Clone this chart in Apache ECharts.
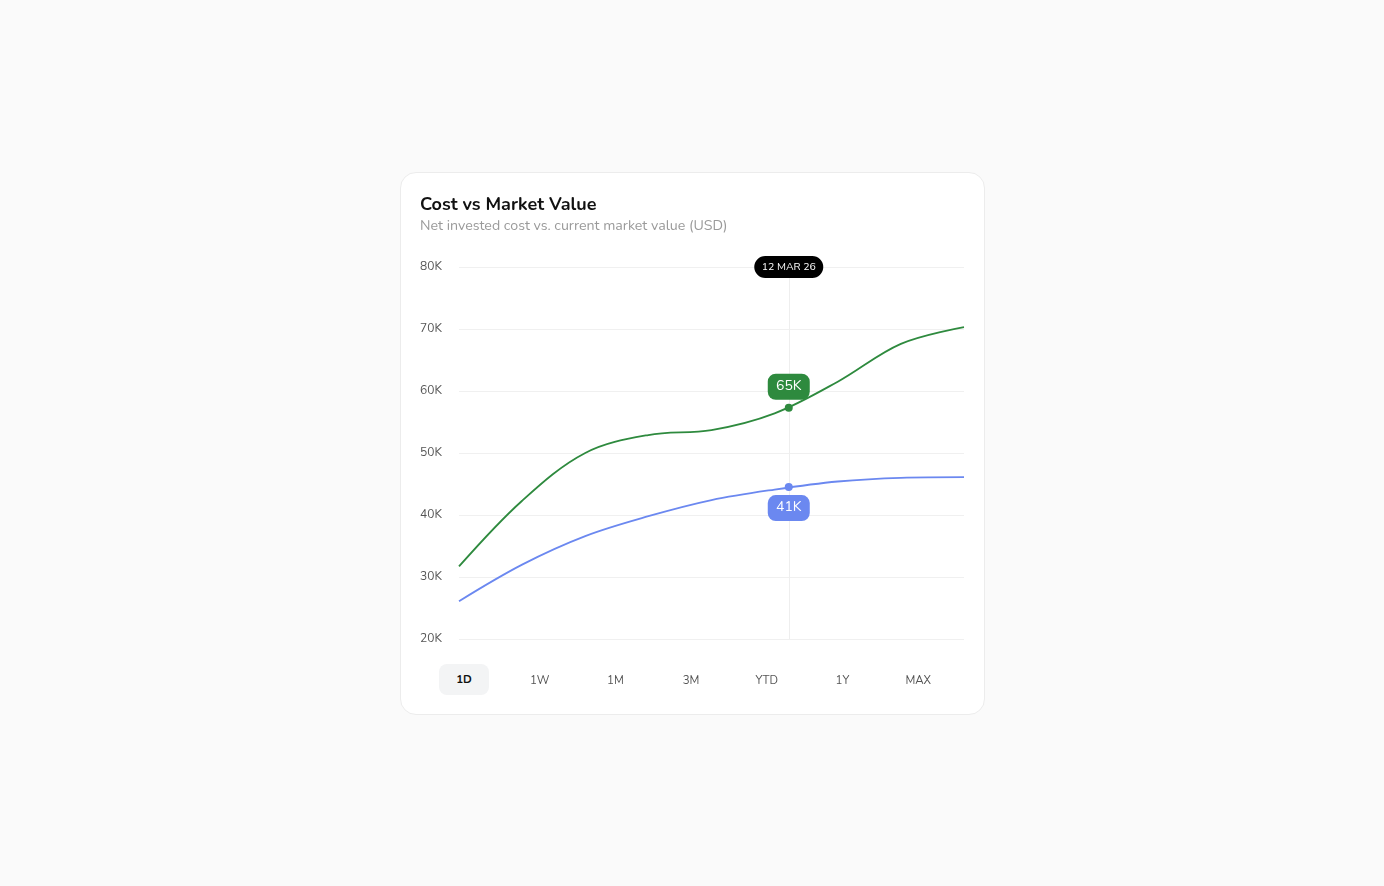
<!DOCTYPE html>
<html>
<head>
<meta charset="utf-8">
<script src="https://cdn.jsdelivr.net/npm/echarts@6/dist/echarts.min.js"></script>
<style>
  html, body { margin:0; padding:0; background:#fafafa; width:1384px; height:886px; overflow:hidden; font-family: Nunito, Lato, "Noto Sans", sans-serif; }
  #card { position:absolute; left:400px; top:172px; width:585px; height:543px; background:#fff; border:1px solid #ececec; border-radius:16px; box-sizing:border-box; }
  #chart { position:absolute; left:0; top:0; width:1384px; height:886px; }
  #tabs { position:absolute; left:440px; top:664px; width:516px; height:31px; }
  .tab { position:absolute; top:1px; height:31px; line-height:31px; text-align:center; font-size:11.5px; color:#555; transform:translateX(-50%); width:50px; }
  .tab.active { top:0; background:#f3f4f5; border-radius:8px; color:#111; font-weight:700; }
</style>
</head>
<body>
<div id="card"></div>
<div id="chart"></div>
<div id="tabs"></div>
<script>
// ---- data ----
const titleText = 'Cost vs Market Value';
const subtitleText = 'Net invested cost vs. current market value (USD)';
const yTicks = ['20K','30K','40K','50K','60K','70K','80K'];
const ranges = ['1D','1W','1M','3M','YTD','1Y','MAX'];
const activeRange = '1D';
// x positions (percent of period), values in K USD
const xPos = [0, 12.5, 25, 37.5, 50, 62.5, 75, 87.5, 100];
const marketY = [31.7, 42.3, 50.0, 52.9, 53.7, 56.4, 61.5, 67.6, 70.3];
const costY = [26.1, 32.0, 36.6, 39.8, 42.4, 44.1, 45.4, 46.0, 46.1];
const hoverX = 65.3;
const hoverMarket = 57.3;
const hoverCost = 44.5;
const hoverDate = '12 MAR 26';
const marketLabel = '65K';
const costLabel = '41K';

const green = '#2e8a3e';
const blue = '#6b88f0';

// tabs
const tabsEl = document.getElementById('tabs');
ranges.forEach((r, i) => {
  const d = document.createElement('div');
  d.className = 'tab' + (r === activeRange ? ' active' : '');
  d.style.left = (24 + i * 75.7) + 'px';
  d.textContent = r;
  tabsEl.appendChild(d);
});

const pillPath = 'path://M11,0 H58 A11,11 0 0 1 58,22 H11 A11,11 0 0 1 11,0 Z';
const tagPath = 'path://M8,0 H34 A8,8 0 0 1 42,8 V18 A8,8 0 0 1 34,26 H8 A8,8 0 0 1 0,18 V8 A8,8 0 0 1 8,0 Z';
const font = 'Nunito, Lato, "Noto Sans", sans-serif';

const chart = echarts.init(document.getElementById('chart'));
chart.setOption({
  animation: false,
  title: {
    text: titleText, subtext: subtitleText,
    left: 420, top: 197, padding: 0, itemGap: 5,
    textStyle: { fontSize: 18, fontWeight: 'bold', color: '#111', fontFamily: font },
    subtextStyle: { fontSize: 14.2, color: '#9a9a9a', fontFamily: font }
  },
  grid: { left: 459, right: 420, top: 267, bottom: 247 },
  xAxis: { type: 'value', min: 0, max: 100, show: false },
  yAxis: {
    type: 'value', min: 20, max: 80, interval: 10,
    axisLine: { show: false }, axisTick: { show: false },
    splitLine: { lineStyle: { color: '#f0f0f0', width: 1 } },
    axisLabel: {
      align: 'left', margin: 39, fontSize: 12, color: '#555', fontFamily: font,
      formatter: (v) => yTicks[Math.round((v - 20) / 10)]
    }
  },
  series: [
    {
      name: 'Cost', type: 'line', smooth: 0.35, symbol: 'none',
      data: xPos.map((x, i) => [x, costY[i]]),
      lineStyle: { color: blue, width: 1.8 },
      z: 2,
      markLine: {
        silent: true, symbol: 'none', label: { show: false },
        lineStyle: { color: '#eeeeee', width: 1, type: 'solid' },
        data: [[{ coord: [hoverX, 20] }, { coord: [hoverX, 80] }]]
      },
      markPoint: {
        silent: true,
        data: [
          { coord: [hoverX, hoverCost], symbol: 'circle', symbolSize: 8,
            itemStyle: { color: blue }, label: { show: false } },
          { coord: [hoverX, hoverCost], symbol: tagPath, symbolSize: [42, 26], symbolOffset: [0, 21],
            itemStyle: { color: blue },
            label: { show: true, position: 'inside', formatter: costLabel, color: '#fff', fontSize: 14, fontFamily: font, padding: [2, 0, 0, 0] } }
        ]
      }
    },
    {
      name: 'Market', type: 'line', smooth: 0.35, symbol: 'none',
      data: xPos.map((x, i) => [x, marketY[i]]),
      lineStyle: { color: green, width: 1.8 },
      z: 3,
      markPoint: {
        silent: true,
        data: [
          { coord: [hoverX, hoverMarket], symbol: 'circle', symbolSize: 8,
            itemStyle: { color: green }, label: { show: false } },
          { coord: [hoverX, hoverMarket], symbol: tagPath, symbolSize: [42, 26], symbolOffset: [0, -21],
            itemStyle: { color: green },
            label: { show: true, position: 'inside', formatter: marketLabel, color: '#fff', fontSize: 14, fontFamily: font, padding: [2, 0, 0, 0] } },
          { coord: [hoverX, 80], symbol: pillPath, symbolSize: [69, 22],
            itemStyle: { color: '#000' },
            label: { show: true, position: 'inside', formatter: hoverDate, color: '#fff', fontSize: 10.5, fontFamily: font, padding: [1, 0, 0, 0] } }
        ]
      }
    }
  ]
});
</script>
</body>
</html>
